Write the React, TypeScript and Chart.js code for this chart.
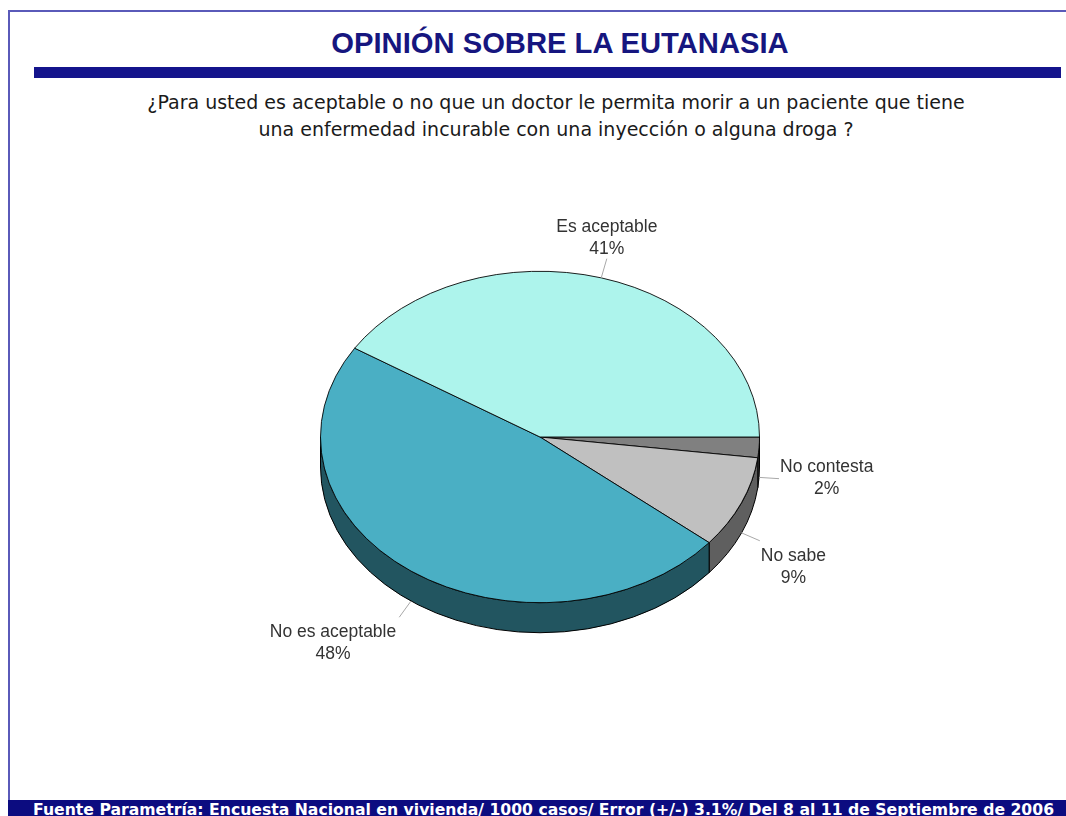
import React, { useEffect, useRef } from 'react';
import { Chart, registerables } from 'chart.js';

Chart.register(...registerables);

// ---- data ----
const CATEGORIES = ['No contesta', 'No sabe', 'No es aceptable', 'Es aceptable'];
const VALUES = [2, 9, 48, 41];
const TOP_COLORS = ['#808080', '#c0c0c0', '#4aafc4', '#adf4ec'];
const SIDE_COLORS = ['#3c3c3c', '#5f5f5f', '#225560', '#6fa9a4'];

const TITLE = 'OPINIÓN SOBRE LA EUTANASIA';
const QUESTION = [
  '¿Para usted es aceptable o no que un doctor le permita morir a un paciente que tiene',
  'una enfermedad incurable con una inyección o alguna droga ?',
];
const SOURCE =
  'Fuente Parametría: Encuesta Nacional en vivienda/ 1000 casos/ Error (+/-) 3.1%/ Del 8 al 11 de Septiembre de 2006';

// ---- style ----
const TILT = 0.755;
const DEPTH = 30;
const LEADER = 20;
const LINE_H = 22;
const FONT_FAMILY = '"Liberation Sans", Arial, sans-serif';
const WIDE_FAMILY = '"DejaVu Sans", Verdana, sans-serif';
const LABEL_FONT = `17.5px ${FONT_FAMILY}`;

const pie3d = {
  id: 'pie3d',
  beforeDatasetsDraw(chart: any) {
    const meta = chart.getDatasetMeta(0);
    const arcs = meta.data;
    const ctx = chart.ctx;
    const { x: cx, y: cy, outerRadius: r } = arcs[0].getProps(['x', 'y', 'outerRadius'], true);
    const ry = r * TILT;
    const TAU = Math.PI * 2;
    ctx.save();
    ctx.lineWidth = 1;
    ctx.strokeStyle = '#000';
    arcs.forEach((arc: any, i: number) => {
      const p = arc.getProps(['startAngle', 'endAngle'], true);
      let s = p.startAngle;
      let e = p.endAngle;
      while (s < 0) { s += TAU; e += TAU; }
      while (s >= TAU) { s -= TAU; e -= TAU; }
      for (const base of [0, TAU]) {
        const a0 = Math.max(s, base);
        const a1 = Math.min(e, base + Math.PI);
        if (a1 <= a0) continue;
        ctx.beginPath();
        ctx.ellipse(cx, cy, r, ry, 0, a0, a1, false);
        ctx.lineTo(cx + r * Math.cos(a1), cy + ry * Math.sin(a1) + DEPTH);
        ctx.ellipse(cx, cy + DEPTH, r, ry, 0, a1, a0, true);
        ctx.closePath();
        ctx.fillStyle = SIDE_COLORS[i];
        ctx.fill();
        ctx.stroke();
      }
    });
    ctx.restore();
    ctx.save();
    ctx.translate(cx, cy);
    ctx.scale(1, TILT);
    ctx.translate(-cx, -cy);
  },
  afterDatasetsDraw(chart: any) {
    const ctx = chart.ctx;
    ctx.restore();
    const meta = chart.getDatasetMeta(0);
    const arcs = meta.data;
    const { x: cx, y: cy, outerRadius: r } = arcs[0].getProps(['x', 'y', 'outerRadius'], true);
    const ry = r * TILT;
    ctx.save();
    ctx.font = LABEL_FONT;
    ctx.textAlign = 'center';
    ctx.textBaseline = 'middle';
    arcs.forEach((arc: any, i: number) => {
      const p = arc.getProps(['startAngle', 'endAngle'], true);
      const mid = (p.startAngle + p.endAngle) / 2;
      const c = Math.cos(mid);
      const sn = Math.sin(mid);
      const sx = cx + r * c;
      const sy = cy + ry * sn + (sn > 0 ? DEPTH : 0);
      const ex = sx + c * LEADER;
      const ey = sy + sn * LEADER;
      ctx.strokeStyle = '#a8a8a8';
      ctx.lineWidth = 1;
      ctx.beginPath();
      ctx.moveTo(sx, sy);
      ctx.lineTo(ex, ey);
      ctx.stroke();
      const lines = [CATEGORIES[i], `${VALUES[i]}%`];
      const w = Math.max(...lines.map((t) => ctx.measureText(t).width));
      const h = LINE_H * lines.length;
      const fx = c > 0.5 ? 0 : c < -0.5 ? 1 : 0.5;
      const fy = sn > 0.3 ? 0 : sn < -0.3 ? 1 : 0.5;
      const left = ex - fx * w + (fx === 0 ? 1 : fx === 1 ? -3 : 0);
      const top = ey - fy * h + (fy === 0 ? 4 : fy === 1 ? 2 : 0);
      ctx.fillStyle = '#333333';
      lines.forEach((t, k) => {
        ctx.fillText(t, left + w / 2, top + LINE_H / 2 + k * LINE_H);
      });
    });
    ctx.restore();
  },
};

export default function App() {
  const ref = useRef<HTMLCanvasElement | null>(null);
  useEffect(() => {
    if (!ref.current) return;
    const chart = new Chart(ref.current, {
      type: 'pie',
      data: {
        labels: CATEGORIES,
        datasets: [
          {
            data: VALUES,
            backgroundColor: TOP_COLORS,
            borderColor: '#000000',
            borderWidth: 1,
          },
        ],
      },
      options: {
        responsive: false,
        animation: false,
        rotation: 90,
        events: [],
        layout: { padding: { left: 320, right: 306, top: 217, bottom: 159 } },
        plugins: {
          legend: { display: false },
          tooltip: { enabled: false },
          title: { display: false },
        },
      },
      plugins: [pie3d as any],
    });
    return () => chart.destroy();
  }, []);

  return (
    <div
      style={{
        position: 'absolute',
        left: 0,
        top: 0,
        width: 1066,
        height: 816,
        overflow: 'hidden',
        background: '#ffffff',
        fontFamily: FONT_FAMILY,
      }}
    >
      <div style={{ position: 'absolute', left: 8, top: 10, width: 1058, height: 2, background: '#5a5ab9' }} />
      <div style={{ position: 'absolute', left: 8, top: 10, width: 2, height: 790, background: '#5a5ab9' }} />
      <div
        style={{
          position: 'absolute',
          left: 0,
          top: 28,
          width: 1120,
          textAlign: 'center',
          fontSize: 29.2,
          lineHeight: '30px',
          fontWeight: 'bold',
          color: '#16167f',
          whiteSpace: 'nowrap',
        }}
      >
        {TITLE}
      </div>
      <div style={{ position: 'absolute', left: 34, top: 67, width: 1027, height: 11, background: '#14148c' }} />
      <div
        style={{
          position: 'absolute',
          left: 0,
          top: 89,
          width: 1112,
          textAlign: 'center',
          fontFamily: WIDE_FAMILY,
          fontSize: 19,
          lineHeight: '27px',
          color: '#1a1a1a',
          whiteSpace: 'nowrap',
        }}
      >
        {QUESTION.map((q, i) => (
          <div key={i}>{q}</div>
        ))}
      </div>
      <canvas
        ref={ref}
        width={1066}
        height={816}
        style={{ position: 'absolute', left: 0, top: 0, width: 1066, height: 816 }}
      />
      <div
        style={{
          position: 'absolute',
          left: 8,
          top: 800,
          width: 1058,
          height: 16,
          background: '#0c0c80',
          overflow: 'hidden',
        }}
      >
        <div
          style={{
            position: 'absolute',
            left: 25,
            top: 1.5,
            fontFamily: WIDE_FAMILY,
            fontSize: 15.66,
            lineHeight: '16px',
            fontWeight: 'bold',
            color: '#ffffff',
            whiteSpace: 'nowrap',
          }}
        >
          {SOURCE}
        </div>
      </div>
    </div>
  );
}
